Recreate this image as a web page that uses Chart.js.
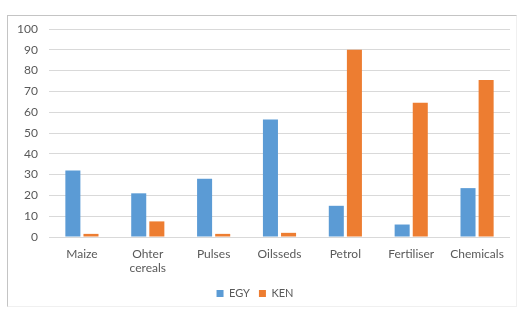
<!DOCTYPE html>
<html>
<head>
<meta charset="utf-8">
<script src="https://cdn.jsdelivr.net/npm/chart.js@4.4.0/dist/chart.umd.min.js"></script>
<style>
  html, body { margin: 0; padding: 0; background: #fff; }
  #wrap { position: relative; width: 524px; height: 309px; overflow: hidden; }
  #frame {
    position: absolute; left: 7px; top: 15px; width: 508px; height: 290px;
    border-top: 1px solid #c4c4c4; border-left: 1px solid #c4c4c4;
    border-right: 1px solid #f0f0f0; border-bottom: 1px solid #f0f0f0;
  }
  #chart { position: absolute; left: 0; top: 0; }
</style>
</head>
<body>
<div id="wrap">
  <div id="frame"></div>
  <canvas id="chart" width="524" height="309"></canvas>
</div>
<script>
// --- DATA ---
const categories = ['Maize', ['Ohter', 'cereals'], 'Pulses', 'Oilsseds', 'Petrol', 'Fertiliser', 'Chemicals'];
const egyValues = [32, 21, 28, 56.5, 15, 6, 23.5];
const kenValues = [1.5, 7.5, 1.5, 2, 90, 64.5, 75.5];

const textColor = '#595959';
const fontSpec = { family: 'Lato, "Open Sans", sans-serif', size: 12 };

const ctx = document.getElementById('chart').getContext('2d');
new Chart(ctx, {
    type: 'bar',
    data: {
        labels: categories,
        datasets: [
            { label: 'EGY', data: egyValues, backgroundColor: '#5b9bd5' },
            { label: 'KEN', data: kenValues, backgroundColor: '#ed7d31' }
        ]
    },
    options: {
        responsive: false,
        animation: false,
        devicePixelRatio: 1,
        layout: { padding: { top: 29, right: 14, bottom: 0, left: 0 } },
        datasets: { bar: { categoryPercentage: 0.55, barPercentage: 0.83 } },
        scales: {
            x: {
                grid: { display: false, drawTicks: false },
                border: { display: false },
                ticks: { color: textColor, font: fontSpec, padding: 10, maxRotation: 0 },
                afterFit: (scale) => { scale.height = 42; }
            },
            y: {
                min: 0, max: 100,
                grid: { color: '#d9d9d9', drawTicks: false },
                border: { display: false },
                ticks: { stepSize: 10, color: textColor, font: fontSpec, padding: 11 },
                afterFit: (scale) => { scale.width = 49; }
            }
        },
        plugins: {
            legend: {
                position: 'bottom',
                labels: { boxWidth: 7, boxHeight: 7, color: textColor, font: { family: fontSpec.family, size: 11 }, padding: 9 }
            },
            tooltip: { enabled: false }
        }
    }
});
</script>
</body>
</html>
